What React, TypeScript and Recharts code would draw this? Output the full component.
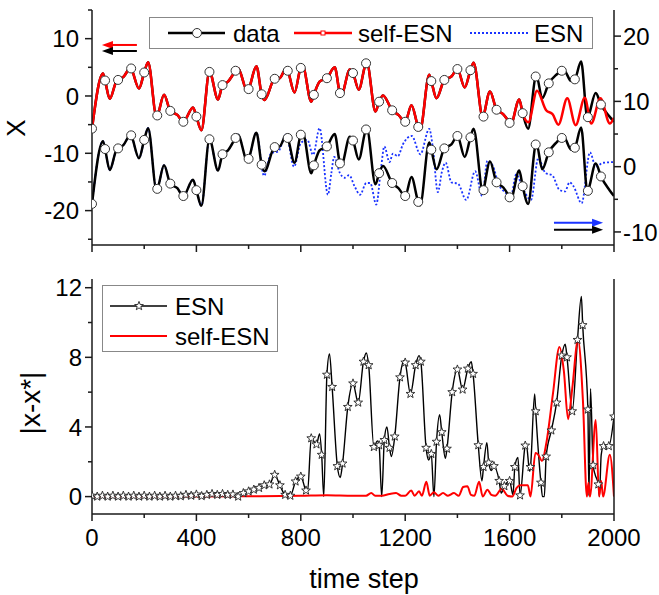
import React from 'react';
import { ComposedChart, Line, XAxis, YAxis, ReferenceLine, Legend } from 'recharts';

const FONT = '"Liberation Sans", Arial, Helvetica, sans-serif';
const AX = '#1a1a1a';
const RED = '#ff0000';
const BLUE = '#1a33ff';

// ---- top panel: the signal (time step, value) ----
const dataT = [0,42,50,68,93,100,120,148,150,180,200,215,247,250,276,300,327,350,387,400,419,450,483,500,521,550,559,595,600,630,650,661,700,719,744,750,776,800,808,840,850,872,900,930,950,955,988,1000,1022,1050,1053,1086,1100,1115,1150,1174,1200,1224,1250,1257,1292,1300,1320,1350,1377,1400,1428,1450,1462,1498,1500,1525,1550,1576,1600,1604,1637,1650,1671,1700,1703,1725,1750,1779,1800,1808,1836,1850,1874,1898,1900,1930,1950,1983,2000];
const dataX = [-5.7,3.9,2.7,-0.5,2.5,2.8,3.3,4.9,4.8,1.3,4.1,5.9,-3.5,-3.4,0.2,-2.6,-3.3,-4.5,-2.0,-3.6,-6.0,4.2,-0.6,1.9,2.5,4.4,4.9,0.9,1.2,5.2,0.3,-0.7,3.0,3.1,4.8,4.4,0.6,4.9,5.1,-1.0,0.2,2.5,3.1,5.0,0.5,0.2,4.6,4.0,1.1,5.7,5.8,-2.7,-1.0,0.1,-2.5,-3.3,-4.5,-1.6,-5.4,-5.9,3.7,2.6,-0.4,2.8,3.4,4.7,1.5,4.5,5.8,-3.9,-3.6,0.8,-2.4,-3.2,-4.7,-5.0,-0.6,-3.0,-5.7,3.4,3.5,-0.4,2.2,3.7,4.4,4.5,2.6,2.9,6.0,-3.8,-3.7,0.5,-1.5,-3.6,-4.5];

// self-ESN follows the data until t=1650, then its own values
const selfSplit = 1650;
const selfTailT = [1672,1705,1740,1765,1787,1821,1853,1888,1913,1948,1984,2000];
const selfTailX = [-4.6,0.9,-2.5,-3.2,-5.0,-0.4,-5.1,-0.3,-4.8,-0.4,-4.8,-3.8];

// ESN follows the data until t=630, then its own values
const esnSplit = 630;
const esnTailT = [659,687,713,744,774,800,825,847,872,904,917,928,950,968,985,1006,1027,1051,1066,1089,1108,1120,1140,1153,1172,1191,1225,1258,1292,1306,1325,1341,1355,1377,1402,1434,1468,1495,1515,1535,1558,1585,1605,1625,1655,1682,1710,1738,1763,1790,1812,1830,1845,1876,1908,1930,1958,2000];
const esnTailX = [-1.4,2.1,2.3,4.9,0.0,3.6,4.1,1.8,5.9,-4.3,-1.0,1.5,-1.0,-1.7,-1.3,-3.0,-4.3,-2.5,-2.5,-5.8,0.0,3.1,0.7,2.0,1.6,3.4,4.7,1.9,5.8,2.9,-3.9,-0.7,0.6,-2.4,-2.6,-5.1,-0.7,-4.5,0.9,0.2,-2.7,-4.0,-4.6,-1.2,-3.7,-5.1,1.3,-1.0,-1.3,-3.5,-3.8,-2.4,-3.0,-5.6,2.2,0.0,0.6,0.7];

// ---- bottom panel: |x - x*| ----
// ESN error at every 20 steps (star markers), t = 0, 20, ..., 2000
const errStarStep = 20;
const errStarV = [0.05,0.0,0.05,0.0,0.05,0.0,0.05,0.0,0.05,0.0,0.05,0.0,0.05,0.0,0.05,0.0,0.05,0.02,0.1,0.05,0.12,0.03,0.1,0.15,0.1,0.15,0.1,0.12,0.0,0.2,0.3,0.4,0.5,0.65,0.7,1.25,0.65,0.1,0.05,0.87,1.15,0.35,3.35,3.0,2.4,7.0,6.3,1.75,1.9,5.15,6.5,5.4,7.75,7.55,2.85,2.95,3.25,2.8,3.45,6.85,7.7,5.9,7.55,7.75,2.8,2.45,3.15,3.7,2.75,6.0,7.3,6.15,7.35,7.05,2.95,1.7,1.95,1.75,0.9,0.6,0.9,1.7,0.07,2.93,1.7,4.9,0.8,2.3,3.8,5.4,8.1,8.0,4.9,9.0,9.85,5.0,1.8,0.7,2.9,2.9,4.6];
// extra points of the ESN error line between the markers (peaks and dips)
const errExtraT = [826,872,888,910,951,1051,1093,1110,1130,1147,1195,1253,1290,1310,1332,1354,1453,1494,1513,1530,1568,1613,1632,1664,1677,1696,1726,1733,1813,1875,1904,1910,1928,1944,1951];
const errExtraV = [0.3,3.6,0.0,8.2,1.1,8.25,3.2,0.0,4.0,2.3,7.8,8.1,2.1,0.0,4.7,2.2,7.75,0.9,3.1,1.5,0.2,0.1,2.25,3.0,1.45,5.9,0.0,0.0,8.75,11.5,0.05,6.2,1.25,0.0,2.4];
// self-ESN error
const selfErrT = [0,200,400,600,800,900,1000,1050,1070,1085,1110,1140,1165,1185,1200,1223,1236,1253,1264,1281,1294,1310,1326,1345,1364,1387,1405,1422,1438,1452,1465,1483,1497,1515,1530,1545,1570,1592,1610,1627,1640,1670,1680,1699,1710,1724,1741,1766,1791,1808,1824,1840,1862,1881,1896,1902,1908,1930,1943,1951,1958,1984,2000];
const selfErrV = [0,0,0,0.02,0.05,0.08,0.05,0.05,0.2,0.05,0.05,0.15,0.2,0.05,0.05,0.35,0.05,0.3,0.05,0.85,0.05,0.25,0.05,0.2,0.05,0.2,0.05,0.55,0.6,0.1,0.05,0.85,0.0,0.4,0.1,0.05,0.45,0.05,0.0,0.5,0.65,0.65,0.0,2.5,2.4,2.05,3.1,5.9,8.6,7.2,4.45,6.2,9.0,5.5,0.0,0.8,0.0,4.4,0.0,0.9,0.0,2.4,0.0];

// ---- ticks ----
const xTicks = [0,200,400,600,800,1000,1200,1400,1600,1800,2000];
const topLeftTicks = [-25,-20,-15,-10,-5,0,5,10,15];
const topRightTicks = [-10,-5,0,5,10,15,20];
const bottomYTicks = [0,2,4,6,8,10,12];

// ---- build series ----
const dataSeries = dataT.map((t, i) => ({ t, x: dataX[i] }));
const selfSeries = dataSeries.filter(d => d.t <= selfSplit).concat(selfTailT.map((t, i) => ({ t, x: selfTailX[i] })));
const esnSeries = dataSeries.filter(d => d.t <= esnSplit).concat(esnTailT.map((t, i) => ({ t, x: esnTailX[i] })));
const errEsnSeries = errStarV.map((v, i) => ({ t: i * errStarStep, e: v }))
  .concat(errExtraT.map((t, i) => ({ t, e: errExtraV[i] })))
  .sort((a, b) => a.t - b.t);
const errSelfSeries = selfErrT.map((t, i) => ({ t, e: selfErrV[i] }));

// ---- custom ticks ----
const leftTick = (isMajor: (v: number) => boolean, gap: number, fs: number) => (p: any) => {
  const { x, y, payload } = p;
  const v = payload.value;
  const maj = isMajor(v);
  return (
    <g>
      <line x1={x - (maj ? 7 : 4)} y1={y} x2={x} y2={y} stroke={AX} strokeWidth={1.5} />
      {maj && (
        <text x={x - gap} y={y} dy="0.36em" textAnchor="end" fontSize={fs} fontFamily={FONT} fill="#000">{v}</text>
      )}
    </g>
  );
};
const rightTick = (isMajor: (v: number) => boolean, gap: number, fs: number) => (p: any) => {
  const { x, y, payload } = p;
  const v = payload.value;
  const maj = isMajor(v);
  return (
    <g>
      <line x1={x} y1={y} x2={x + (maj ? 7 : 4)} y2={y} stroke={AX} strokeWidth={1.5} />
      {maj && (
        <text x={x + gap} y={y} dy="0.36em" textAnchor="start" fontSize={fs} fontFamily={FONT} fill="#000">{v}</text>
      )}
    </g>
  );
};
const bottomTick = (showLabel: boolean, fs: number) => (p: any) => {
  const { x, y, payload } = p;
  const v = payload.value;
  const maj = v % 400 === 0;
  return (
    <g>
      <line x1={x} y1={y} x2={x} y2={y + (maj ? 7 : 4)} stroke={AX} strokeWidth={1.5} />
      {showLabel && maj && (
        <text x={x} y={y + 32} textAnchor="middle" fontSize={fs} fontFamily={FONT} fill="#000">{v}</text>
      )}
    </g>
  );
};

// ---- markers ----
const circleDot = (p: any) => {
  const { cx, cy, payload, index } = p;
  if (cx == null || payload.t % 50 !== 0 || payload.t >= 2000) return <g key={`n${index}`} />;
  return <circle key={`c${index}`} cx={cx} cy={cy} r={4.5} fill="#fff" stroke="#333" strokeWidth={1} />;
};
const starPoints = (cx: number, cy: number, ro: number, ri: number) => {
  const pts: string[] = [];
  for (let k = 0; k < 10; k++) {
    const r = k % 2 === 0 ? ro : ri;
    const a = -Math.PI / 2 + (k * Math.PI) / 5;
    pts.push(`${(cx + r * Math.cos(a)).toFixed(2)},${(cy + r * Math.sin(a)).toFixed(2)}`);
  }
  return pts.join(' ');
};
const starDot = (p: any) => {
  const { cx, cy, payload, index } = p;
  if (cx == null || payload.t % errStarStep !== 0) return <g key={`n${index}`} />;
  return <polygon key={`s${index}`} points={starPoints(cx, cy, 4.6, 1.9)} fill="#fff" stroke="#222" strokeWidth={0.9} />;
};

// ---- arrows (annotation) ----
const arrowShape = (color: string, dir: 'left' | 'right') => (p: any) => {
  const { x1, y1, x2 } = p;
  const tip = dir === 'left' ? Math.min(x1, x2) : Math.max(x1, x2);
  const tail = dir === 'left' ? Math.max(x1, x2) : Math.min(x1, x2);
  const s = dir === 'left' ? 1 : -1;
  return (
    <g>
      <line x1={tail} y1={y1} x2={tip + s * 8} y2={y1} stroke={color} strokeWidth={2} />
      <polygon points={`${tip},${y1} ${tip + s * 11},${y1 - 4} ${tip + s * 11},${y1 + 4}`} fill={color} />
    </g>
  );
};

// ---- legends ----
const TopLegend = () => (
  <svg width={444} height={32} style={{ display: 'block' }}>
    <rect x={0.5} y={0.5} width={443} height={31} fill="#fff" stroke="#888" strokeWidth={1} />
    <line x1={19} y1={16} x2={76} y2={16} stroke="#000" strokeWidth={2.5} />
    <circle cx={48} cy={16} r={4.5} fill="#fff" stroke="#333" strokeWidth={1} />
    <text x={84} y={25} fontSize={24} fontFamily={FONT} fill="#000">data</text>
    <line x1={145} y1={16} x2={203} y2={16} stroke={RED} strokeWidth={2.5} />
    <rect x={172} y={14} width={4} height={4} fill="#fff" stroke={RED} strokeWidth={1} />
    <text x={209} y={25} fontSize={24} fontFamily={FONT} fill="#000">self-ESN</text>
    <line x1={321} y1={16} x2={381} y2={16} stroke={BLUE} strokeWidth={1.8} strokeDasharray="2 2" />
    <text x={385} y={25} fontSize={24} fontFamily={FONT} fill="#000">ESN</text>
  </svg>
);
const BottomLegend = () => (
  <svg width={176} height={67} style={{ display: 'block' }}>
    <rect x={0.5} y={0.5} width={175} height={66} fill="#fff" stroke="#888" strokeWidth={1} />
    <line x1={8} y1={21} x2={65} y2={21} stroke="#000" strokeWidth={1.4} />
    <polygon points={starPoints(37, 21, 4.6, 1.9)} fill="#fff" stroke="#222" strokeWidth={0.9} />
    <text x={73} y={30} fontSize={24} fontFamily={FONT} fill="#000">ESN</text>
    <line x1={8} y1={51} x2={65} y2={51} stroke={RED} strokeWidth={2} />
    <text x={73} y={60} fontSize={24} fontFamily={FONT} fill="#000">self-ESN</text>
  </svg>
);

const axisLine = { stroke: AX, strokeWidth: 1.5 };

export default function App() {
  return (
    <div style={{ position: 'absolute', left: 0, top: 0, width: 659, height: 595, background: '#fff' }}>
      <div style={{ position: 'absolute', left: 0, top: 0 }}>
        <ComposedChart width={659} height={255} margin={{ top: 10, right: 0, bottom: 0, left: 0 }}>
          <XAxis xAxisId="b" dataKey="t" type="number" domain={[0, 2000]} ticks={xTicks} interval={0}
            height={10} tickSize={0} tickMargin={0} tickLine={false} axisLine={axisLine}
            tick={bottomTick(false, 24)} allowDataOverflow />
          <XAxis xAxisId="top" orientation="top" dataKey="t" type="number" domain={[0, 2000]}
            height={0} tick={false} tickLine={false} axisLine={axisLine} allowDataOverflow />
          <YAxis yAxisId="L" type="number" domain={[-26, 15]} ticks={topLeftTicks} interval={0}
            width={92} tickSize={0} tickMargin={0} tickLine={false} axisLine={axisLine}
            tick={leftTick(v => v % 10 === 0, 13, 24)} allowDataOverflow
            label={() => (
              <text x={16} y={128} transform="rotate(-90, 16, 128)" dy="0.36em" textAnchor="middle"
                fontSize={26} fontFamily={FONT} fill="#000">X</text>
            )} />
          <YAxis yAxisId="R" orientation="right" type="number" domain={[-12, 24]} ticks={topRightTicks} interval={0}
            width={45} tickSize={0} tickMargin={0} tickLine={false} axisLine={axisLine}
            tick={rightTick(v => v % 10 === 0, 9, 24)} allowDataOverflow />
          <Line data={esnSeries} xAxisId="b" yAxisId="R" dataKey="x" type="monotone" stroke={BLUE}
            strokeWidth={1.8} strokeDasharray="2 2" dot={false} activeDot={false} isAnimationActive={false} />
          <Line data={dataSeries} xAxisId="b" yAxisId="R" dataKey="x" type="monotone" stroke="#000"
            strokeWidth={2.5} dot={circleDot} activeDot={false} isAnimationActive={false} />
          <Line data={dataSeries} xAxisId="b" yAxisId="L" dataKey="x" type="monotone" stroke="#000"
            strokeWidth={2.5} dot={circleDot} activeDot={false} isAnimationActive={false} />
          <Line data={selfSeries} xAxisId="b" yAxisId="L" dataKey="x" type="monotone" stroke={RED}
            strokeWidth={2.5} dot={false} activeDot={false} isAnimationActive={false} />
          <ReferenceLine xAxisId="b" yAxisId="L" segment={[{ x: 172, y: 8.9 }, { x: 38, y: 8.9 }]} shape={arrowShape(RED, 'left')} />
          <ReferenceLine xAxisId="b" yAxisId="L" segment={[{ x: 172, y: 7.85 }, { x: 38, y: 7.85 }]} shape={arrowShape('#000', 'left')} />
          <ReferenceLine xAxisId="b" yAxisId="R" segment={[{ x: 1770, y: -8.6 }, { x: 1958, y: -8.6 }]} shape={arrowShape(BLUE, 'right')} />
          <ReferenceLine xAxisId="b" yAxisId="R" segment={[{ x: 1770, y: -9.65 }, { x: 1958, y: -9.65 }]} shape={arrowShape('#000', 'right')} />
          <Legend layout="horizontal" verticalAlign="middle" align="center" width={444} height={32}
            wrapperStyle={{ position: 'absolute', left: 149, top: 17, width: 444, height: 32 }}
            content={() => <TopLegend />} />
        </ComposedChart>
      </div>
      <div style={{ position: 'absolute', left: 0, top: 255 }}>
        <ComposedChart width={659} height={340} margin={{ top: 24, right: 0, bottom: 0, left: 0 }}>
          <XAxis xAxisId="b" dataKey="t" type="number" domain={[0, 2000]} ticks={xTicks} interval={0}
            height={81} tickSize={0} tickMargin={0} tickLine={false} axisLine={axisLine}
            tick={bottomTick(true, 24)} allowDataOverflow
            label={() => (
              <text x={364} y={333} textAnchor="middle" fontSize={27} fontFamily={FONT} fill="#000">time step</text>
            )} />
          <XAxis xAxisId="top" orientation="top" dataKey="t" type="number" domain={[0, 2000]}
            height={0} tick={false} tickLine={false} axisLine={axisLine} allowDataOverflow />
          <YAxis yAxisId="L" type="number" domain={[-1, 12.5]} ticks={bottomYTicks} interval={0}
            width={92} tickSize={0} tickMargin={0} tickLine={false} axisLine={axisLine}
            tick={leftTick(v => v % 4 === 0, 10, 24)} allowDataOverflow
            label={() => (
              <text x={30} y={148} transform="rotate(-90, 30, 148)" dy="0.36em" textAnchor="middle"
                fontSize={28} fontFamily={FONT} fill="#000">|x-x*|</text>
            )} />
          <YAxis yAxisId="R" orientation="right" type="number" domain={[-1, 12.5]}
            width={45} tick={false} tickLine={false} axisLine={axisLine} allowDataOverflow />
          <Line data={errEsnSeries} xAxisId="b" yAxisId="L" dataKey="e" type="monotone" stroke="#000"
            strokeWidth={1.4} dot={starDot} activeDot={false} isAnimationActive={false} />
          <Line data={errSelfSeries} xAxisId="b" yAxisId="L" dataKey="e" type="monotone" stroke={RED}
            strokeWidth={2} dot={false} activeDot={false} isAnimationActive={false} />
          <Legend layout="horizontal" verticalAlign="middle" align="center" width={176} height={67}
            wrapperStyle={{ position: 'absolute', left: 102, top: 30, width: 176, height: 67 }}
            content={() => <BottomLegend />} />
        </ComposedChart>
      </div>
    </div>
  );
}
